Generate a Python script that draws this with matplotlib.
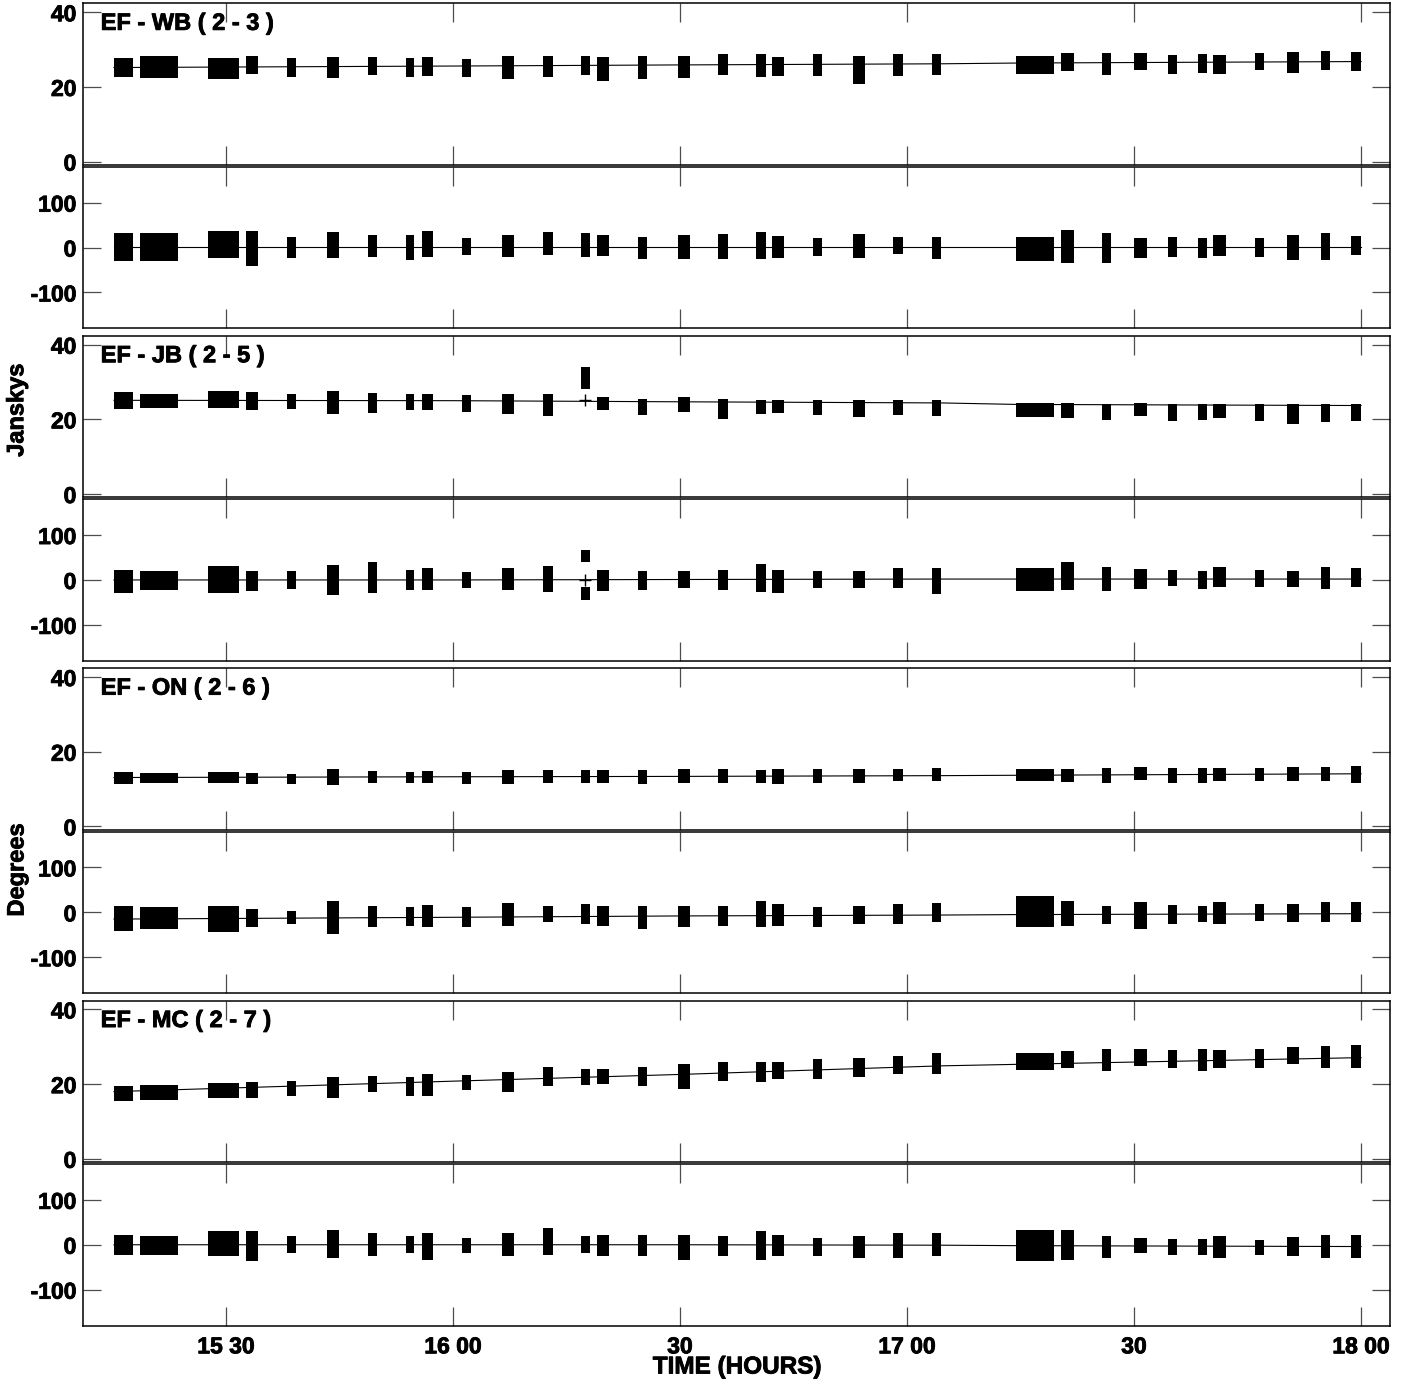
#Visibility amplitude / phase vs time for four EF baselines (VPLOT style)
import matplotlib
matplotlib.use('Agg')
import matplotlib.pyplot as plt
import matplotlib.patheffects as pe

plt.rcParams['font.family'] = ['Liberation Sans', 'DejaVu Sans']
plt.rcParams['font.weight'] = 'bold'
plt.rcParams['axes.unicode_minus'] = False

#scan start / end, minutes after 15:00 UT
scan_start = [15.2, 18.6, 27.6, 32.6, 38.1, 43.4, 48.8, 53.8, 55.9, 61.2, 66.5, 71.9,
              76.9, 79.0, 84.5, 89.7, 95.0, 100.0, 102.2, 107.6, 112.9, 118.2, 123.3,
              134.4, 140.4, 145.8, 150.0, 154.5, 158.5, 160.4, 166.0, 170.2, 174.7, 178.7]
scan_end = [17.7, 23.7, 31.7, 34.2, 39.3, 44.9, 50.0, 54.9, 57.4, 62.4, 68.1, 73.2,
            78.1, 80.6, 85.6, 91.3, 96.3, 101.4, 103.7, 108.8, 114.5, 119.5, 124.5,
            139.4, 142.1, 147.0, 151.7, 155.7, 159.6, 162.2, 167.2, 171.8, 175.9, 180.0]

#times (hours) where the model line is read
fit_hours = [15.2533, 16.0, 16.5, 17.0748, 17.24, 18.0]

baseline_names = ['EF - WB ( 2 - 3 )', 'EF - JB ( 2 - 5 )', 'EF - ON ( 2 - 6 )', 'EF - MC ( 2 - 7 )']

#EF - WB
wb_amp_fit = [25.2, 25.6, 25.9, 26.2, 26.4, 26.8]
wb_ph_fit = [2, 2, 2, 2, 2, 2]
wb_amp_hi = [27.8, 28.3, 27.7, 28.3, 27.7, 28.0, 28.0, 27.8, 28.0, 27.5, 28.3, 28.3, 28.3, 28.0, 28.3, 28.3, 28.7,
             28.7, 28.0, 28.7, 28.4, 28.7, 28.7, 28.3, 29.2, 29.2, 29.0, 28.5, 28.7, 28.5, 29.2, 29.4, 29.6, 29.4]
wb_amp_lo = [22.6, 22.4, 22.2, 23.5, 22.6, 22.4, 23.2, 22.6, 23.0, 22.6, 22.2, 22.6, 23.2, 21.7, 22.2, 22.4, 23.2,
             22.6, 22.8, 23.0, 20.8, 23.0, 23.2, 23.5, 24.3, 23.2, 24.5, 23.5, 23.7, 23.5, 24.5, 23.7, 24.5, 24.2]
wb_ph_hi = [32, 32, 36, 36, 24, 34, 28, 28, 36, 21, 28, 35, 32, 28, 24, 28, 30,
            34, 26, 21, 30, 23, 23, 23, 39, 32, 21, 23, 21, 28, 21, 28, 32, 26]
wb_ph_lo = [-31, -31, -24, -42, -24, -24, -20, -27, -20, -16, -20, -16, -21, -19, -26, -26, -26,
            -26, -24, -19, -24, -14, -26, -31, -35, -35, -24, -20, -24, -19, -20, -27, -27, -16]

#EF - JB
jb_amp_fit = [25.1, 25.0, 24.7, 24.4, 24.0, 23.7]
jb_ph_fit = [0, 0, 1, 2, 2, 2]
jb_amp_hi = [27.3, 26.8, 27.6, 27.3, 26.8, 27.5, 27.0, 26.8, 26.8, 26.4, 26.8, 26.8, 34.0, 26.0, 25.5, 26.0, 25.5,
             25.3, 25.3, 25.3, 25.1, 25.1, 25.3, 24.4, 24.4, 24.2, 24.4, 24.2, 24.0, 24.0, 24.0, 24.0, 24.0, 24.0]
jb_amp_lo = [22.8, 23.1, 23.1, 22.4, 22.8, 21.5, 21.8, 22.4, 22.6, 22.0, 21.3, 21.0, 28.2, 22.4, 21.1, 22.0, 20.2,
             21.5, 21.7, 21.1, 20.6, 21.1, 20.9, 20.6, 20.3, 19.7, 20.9, 19.6, 19.7, 20.3, 19.6, 18.7, 19.3, 19.6]
jb_ph_hi = [22, 20, 30, 19, 20, 33, 39, 22, 26, 17, 27, 30, 67, 22, 19, 19, 22,
            35, 22, 20, 19, 27, 26, 27, 39, 28, 24, 22, 21, 28, 22, 21, 28, 27]
jb_ph_lo = [-30, -22, -30, -24, -20, -33, -30, -22, -22, -19, -22, -26, 40, -24, -22, -19, -22,
            -26, -30, -19, -19, -17, -32, -24, -22, -24, -20, -13, -20, -16, -16, -16, -20, -16]
#scan 13 on JB is split in phase, plus a flagged point
jb_odd_scan = 12
jb_odd_ph = [-44, -15]
jb_odd_amp_point = 25.1
jb_odd_ph_point = 0

#EF - ON
on_amp_fit = [13.1, 13.3, 13.4, 13.6, 13.7, 14.1]
on_ph_fit = [-15, -11, -8, -6, -5, -3]
on_amp_hi = [14.7, 14.4, 14.7, 14.4, 14.1, 15.3, 14.8, 14.6, 14.8, 14.6, 15.1, 15.1, 15.1, 15.0, 15.0, 15.4, 15.3,
             15.1, 15.3, 15.3, 15.3, 15.3, 15.6, 15.3, 15.3, 15.6, 15.9, 15.6, 15.6, 15.6, 15.6, 15.9, 15.9, 16.2]
on_amp_lo = [11.3, 11.5, 11.5, 11.3, 11.3, 11.1, 11.5, 11.5, 11.5, 11.3, 11.3, 11.7, 11.5, 11.6, 11.3, 11.5, 11.7,
             11.5, 11.3, 11.5, 11.5, 12.2, 12.2, 12.2, 12.0, 11.7, 12.4, 11.7, 11.7, 12.2, 12.2, 12.2, 12.2, 11.7]
on_ph_hi = [15, 11, 15, 7, 4, 26, 15, 13, 16, 11, 20, 15, 19, 15, 15, 15, 15,
            26, 19, 11, 15, 19, 20, 37, 26, 15, 22, 17, 15, 24, 19, 19, 22, 22]
on_ph_lo = [-41, -37, -44, -33, -26, -48, -33, -30, -33, -33, -30, -22, -26, -30, -37, -33, -30,
            -33, -30, -33, -26, -26, -22, -33, -30, -26, -37, -26, -22, -26, -19, -22, -22, -22]

#EF - MC
mc_amp_fit = [18.0, 20.8, 22.6, 24.9, 25.3, 27.1]
mc_ph_fit = [0, 0, 0, -1, -2, -4]
mc_amp_hi = [19.4, 19.7, 20.3, 20.6, 20.9, 21.8, 22.2, 22.0, 22.6, 22.5, 23.3, 24.7, 24.0, 24.0, 24.7, 25.3, 25.8,
             26.0, 26.0, 26.7, 27.1, 27.6, 28.3, 28.3, 28.9, 29.3, 29.3, 29.1, 29.5, 29.2, 29.5, 30.0, 30.2, 30.4]
mc_amp_lo = [15.6, 15.8, 16.4, 16.4, 16.9, 16.4, 17.8, 16.9, 16.9, 18.5, 18.0, 19.4, 19.7, 20.0, 19.4, 18.8, 20.9,
             20.6, 21.3, 21.3, 21.8, 22.7, 22.7, 23.8, 24.2, 23.6, 24.9, 24.2, 23.6, 24.4, 24.4, 25.3, 24.2, 24.4]
mc_ph_hi = [22, 19, 30, 30, 19, 33, 26, 19, 26, 15, 26, 37, 19, 22, 22, 22, 19,
            30, 22, 15, 19, 26, 26, 33, 33, 19, 15, 13, 13, 20, 11, 17, 22, 22]
mc_ph_lo = [-22, -22, -26, -37, -19, -30, -26, -19, -33, -19, -26, -22, -19, -26, -26, -33, -26,
            -33, -26, -26, -30, -30, -26, -37, -33, -30, -19, -22, -22, -30, -22, -24, -30, -30]

x_ticks = [15.5, 16.0, 16.5, 17.0, 17.5, 18.0]
x_tick_labels = ['15 30', '16 00', '30', '17 00', '30', '18 00']

panels = [
    (wb_amp_fit, wb_amp_lo, wb_amp_hi, wb_ph_fit, wb_ph_lo, wb_ph_hi),
    (jb_amp_fit, jb_amp_lo, jb_amp_hi, jb_ph_fit, jb_ph_lo, jb_ph_hi),
    (on_amp_fit, on_amp_lo, on_amp_hi, on_ph_fit, on_ph_lo, on_ph_hi),
    (mc_amp_fit, mc_amp_lo, mc_amp_hi, mc_ph_fit, mc_ph_lo, mc_ph_hi),
]

W, H = 1401, 1384
LEFT, WIDTH = 83.3, 1306.7
PANEL_H = 161.7
block_tops = [3.3, 335.7, 668.1, 1000.5]

#slight extra stroke so the text looks as heavy as the plotter font
HEAVY = [pe.withStroke(linewidth=0.6, foreground='black')]

x0 = [15 + s / 60 for s in scan_start]
widths = [(e - s) / 60 for s, e in zip(scan_start, scan_end)]
x_mid = [a + w / 2 for a, w in zip(x0, widths)]


def make_axes(fig, top_px):
    return fig.add_axes([LEFT / W, 1 - (top_px + PANEL_H) / H, WIDTH / W, PANEL_H / H])


def style(ax, ylim, yticks, show_x):
    ax.set_xlim(15.1857, 18.0638)
    ax.set_ylim(*ylim)
    ax.set_yticks(yticks)
    ax.set_yticklabels([str(v) for v in yticks])
    ax.set_xticks(x_ticks)
    if show_x:
        ax.set_xticklabels(x_tick_labels)
    else:
        ax.set_xticklabels([])
    ax.tick_params(axis='x', direction='in', length=13.7, width=0.9, color='0.3',
                   top=True, bottom=True, labelsize=16.5, pad=7)
    ax.tick_params(axis='y', direction='in', length=13.0, width=0.9, color='0.3',
                   left=True, right=True, labelsize=16.5, pad=5)
    for lab in ax.get_xticklabels() + ax.get_yticklabels():
        lab.set_path_effects(HEAVY)
    for sp in ax.spines.values():
        sp.set_linewidth(1.1)
        sp.set_color('black')


def draw_scans(ax, lo, hi):
    heights = [h - l for l, h in zip(lo, hi)]
    ax.bar(x0, heights, width=widths, bottom=lo, align='edge', color='black', linewidth=0)


fig = plt.figure(figsize=(14.01, 13.84), dpi=100)

for k, (amp_fit, amp_lo, amp_hi, ph_fit, ph_lo, ph_hi) in enumerate(panels):
    top = block_tops[k]
    ax_a = make_axes(fig, top)
    ax_p = make_axes(fig, top + PANEL_H + 1.7)

    draw_scans(ax_a, amp_lo, amp_hi)
    ax_a.plot(fit_hours, amp_fit, color='black', linewidth=0.8)
    style(ax_a, (-0.9, 42.4), [0, 20, 40], False)
    ax_a.text(0.0133, 0.876, baseline_names[k], transform=ax_a.transAxes,
              ha='left', va='center', fontsize=17, fontweight='bold', path_effects=HEAVY)

    draw_scans(ax_p, ph_lo, ph_hi)
    ax_p.plot(fit_hours, ph_fit, color='black', linewidth=0.8)
    style(ax_p, (-180, 180), [-100, 0, 100], k == 3)

    if k == 1:
        j = jb_odd_scan
        ax_p.bar(x0[j], jb_odd_ph[1] - jb_odd_ph[0], width=widths[j], bottom=jb_odd_ph[0],
                 align='edge', color='black', linewidth=0)
        ax_a.plot(x_mid[j], jb_odd_amp_point, marker='+', color='black', markersize=8, mew=1)
        ax_p.plot(x_mid[j], jb_odd_ph_point, marker='+', color='black', markersize=8, mew=1)

fig.text(16.7 / W, 1 - 410 / H, 'Janskys', rotation=90, ha='center', va='center',
         fontsize=17, fontweight='bold', path_effects=HEAVY)
fig.text(17 / W, 1 - 870 / H, 'Degrees', rotation=90, ha='center', va='center',
         fontsize=17, fontweight='bold', path_effects=HEAVY)
fig.text(737 / W, 1 - 1367 / H, 'TIME (HOURS)', ha='center', va='center',
         fontsize=17.5, fontweight='bold', path_effects=HEAVY)

fig.savefig('out.png', dpi=100)
